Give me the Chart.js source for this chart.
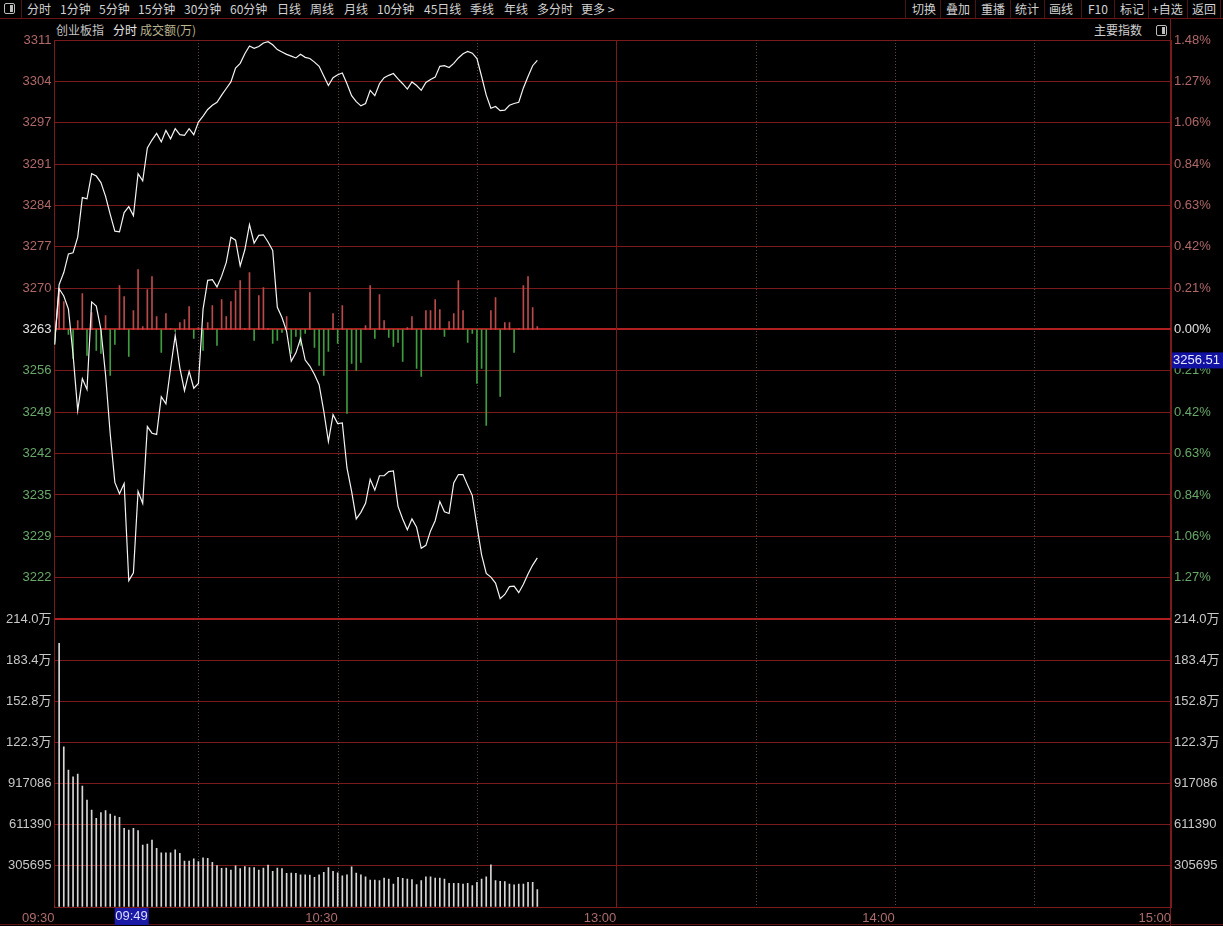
<!DOCTYPE html>
<html lang="zh-CN">
<head>
<meta charset="utf-8">
<title>创业板指 分时</title>
<script src="https://cdn.jsdelivr.net/npm/chart.js@4.4.1/dist/chart.umd.min.js"></script>
<style>
    html, body { margin: 0; padding: 0; background: #000; }
    body { width: 1223px; height: 926px; position: relative; overflow: hidden;
           font-family: "Noto Sans CJK SC", "Liberation Sans", sans-serif; }
    .tb { position: absolute; top: 1px; font-size: 12px; line-height: 16px; color: #d2d2d2; white-space: nowrap; }
    .sep { position: absolute; top: 0; width: 1px; height: 18px; background: #4e1414; }
    .hd { position: absolute; top: 22px; font-size: 12px; line-height: 16px; white-space: nowrap; }
    .icono { position: absolute; width: 9px; height: 9px; border: 1px solid #bdbdbd; border-radius: 2px; }
    .icono::after { content: ''; position: absolute; right: 1px; top: 1px; width: 3px; height: 7px; background: #bdbdbd; }
    #linea-toolbar { position: absolute; left: 0; top: 18px; width: 1223px; height: 1px; background: #6a1414; }
    #borde-derecho { position: absolute; left: 1170px; top: 19px; width: 1px; height: 907px; background: #7a1a1a; }
    #linea-inferior { position: absolute; left: 0; top: 924px; width: 1223px; height: 1px; background: #5a1212; }
    canvas { position: absolute; left: 0; }
    #chart-precio { top: 0; }
    #chart-volumen { top: 600px; }
</style>
</head>
<body>
<div class="icono" style="left:4px; top:3px;"></div>
<div class="sep" style="left:21px;"></div>
<span class="tb" style="left:27px;">分时</span>
<span class="tb" style="left:60px;">1分钟</span>
<span class="tb" style="left:99px;">5分钟</span>
<span class="tb" style="left:138px;">15分钟</span>
<span class="tb" style="left:184px;">30分钟</span>
<span class="tb" style="left:230px;">60分钟</span>
<span class="tb" style="left:277px;">日线</span>
<span class="tb" style="left:310px;">周线</span>
<span class="tb" style="left:344px;">月线</span>
<span class="tb" style="left:377px;">10分钟</span>
<span class="tb" style="left:424px;">45日线</span>
<span class="tb" style="left:470px;">季线</span>
<span class="tb" style="left:504px;">年线</span>
<span class="tb" style="left:537px;">多分时</span>
<span class="tb" style="left:581px;">更多 &gt;</span>

<div class="sep" style="left:905px;"></div>
<span class="tb" style="left:912px;">切换</span>
<div class="sep" style="left:940px;"></div>
<span class="tb" style="left:946px;">叠加</span>
<div class="sep" style="left:975px;"></div>
<span class="tb" style="left:981px;">重播</span>
<div class="sep" style="left:1010px;"></div>
<span class="tb" style="left:1015px;">统计</span>
<div class="sep" style="left:1044px;"></div>
<span class="tb" style="left:1049px;">画线</span>
<div class="sep" style="left:1081px;"></div>
<span class="tb" style="left:1088px;">F10</span>
<div class="sep" style="left:1114px;"></div>
<span class="tb" style="left:1120px;">标记</span>
<div class="sep" style="left:1148px;"></div>
<span class="tb" style="left:1152px;">+自选</span>
<div class="sep" style="left:1187px;"></div>
<span class="tb" style="left:1192px;">返回</span>
<div class="sep" style="left:1220px;"></div>
<div id="linea-toolbar"></div>

<span class="hd" style="left:56px; color:#c4c4c4;">创业板指</span>
<span class="hd" style="left:113px; color:#e6e6e6;">分时</span>
<span class="hd" style="left:140px; color:#b8b48e;">成交额(万)</span>
<span class="hd" style="left:1094px; color:#cfcfcf;">主要指数</span>
<div class="icono" style="left:1156px; top:25px;"></div>

<div id="borde-derecho"></div>
<div id="linea-inferior"></div>

<canvas id="chart-precio" width="1223" height="640"></canvas>
<canvas id="chart-volumen" width="1223" height="326"></canvas>

<script>
// Datos (un punto por minuto desde las 09:30)
const cierreAnterior = 3263;
const rangoPct = 1.48;
const valorCursor = 3256.51;
const horaCursor = '09:49';
const minutoCursor = 19;

const precioIndice = [
    3260.5, 3270.5, 3272.5, 3275.6, 3275.8, 3278.4, 3285.0, 3284.8, 3289.0, 3288.6,
    3287.5, 3285.2, 3282.2, 3279.4, 3279.3, 3282.5, 3283.5, 3282.0, 3289.0, 3287.8,
    3293.3, 3294.6, 3295.7, 3294.3, 3296.2, 3294.8, 3296.5, 3295.5, 3295.4, 3296.5,
    3295.5, 3297.6, 3298.6, 3299.7, 3300.4, 3300.9, 3302.1, 3303.2, 3304.3, 3306.6,
    3307.4, 3309.0, 3310.3, 3309.9, 3310.2, 3310.8, 3311.0, 3310.5, 3309.7, 3309.3,
    3308.9, 3308.6, 3308.3, 3308.9, 3308.4, 3308.2, 3307.6, 3306.9, 3305.3, 3303.7,
    3305.0, 3305.5, 3305.8, 3304.0, 3302.0, 3301.0, 3300.3, 3300.7, 3302.9, 3302.0,
    3304.0, 3305.0, 3305.4, 3305.7, 3304.8, 3304.0, 3303.1, 3304.3, 3303.7, 3302.9,
    3304.2, 3304.7, 3305.1, 3306.9, 3307.0, 3306.7, 3307.4, 3308.3, 3309.0, 3309.4,
    3309.1, 3308.2, 3305.2, 3302.1, 3299.9, 3300.2, 3299.5, 3299.6, 3300.4, 3300.7,
    3300.9, 3303.3, 3305.2, 3307.0, 3307.9
];

const precioPromedio = [
    3260.5, 3269.8, 3268.6, 3266.4, 3258.8, 3249.5, 3254.8, 3253.0, 3267.6, 3266.9,
    3263.0, 3255.4, 3245.6, 3237.5, 3235.6, 3237.3, 3221.1, 3222.4, 3236.0, 3234.0,
    3246.8, 3245.7, 3245.5, 3251.8, 3250.6, 3256.5, 3262.0, 3256.6, 3252.8, 3256.0,
    3253.2, 3254.0, 3266.4, 3271.2, 3271.3, 3270.1, 3271.9, 3274.2, 3278.4, 3277.9,
    3273.6, 3276.3, 3280.5, 3277.4, 3278.7, 3278.8, 3277.6, 3276.2, 3266.7, 3265.0,
    3262.7, 3257.7, 3259.1, 3261.5, 3257.9, 3256.9, 3255.5, 3253.8, 3249.4, 3244.3,
    3248.8, 3247.3, 3247.4, 3239.9, 3236.0, 3231.4, 3232.5, 3234.0, 3238.0, 3236.2,
    3238.6, 3238.6, 3239.3, 3239.4, 3233.5, 3231.4, 3229.6, 3231.4, 3230.0, 3226.5,
    3227.0, 3229.4, 3231.1, 3234.3, 3232.6, 3232.3, 3237.4, 3238.8, 3238.8, 3237.0,
    3235.3, 3230.2, 3225.4, 3222.3, 3221.7, 3220.7, 3218.1, 3218.8, 3220.1, 3220.2,
    3219.1, 3220.5, 3222.2, 3223.7, 3224.9
];

// Barras rojo/verde alrededor de la línea 0.00% (positivo = rojo, negativo = verde)
const fuerzaCompra = [
    -15, 39, 28, -5, -29, 9, 36, -26, 17, -21,
    -24, 14, -46, -15, 44, 33, -27, 19, 60, 3,
    40, 53, 13, -23, 16, 1, -2, 7, 10, 23,
    -9, 2, -21, 7, 24, -16, 30, 13, 28, 39,
    49, 1, 57, -11, 34, 42, 1, -14, -11, -3,
    13, -24, -7, -16, -4, 37, -18, -36, -46, -22,
    16, -14, 24, -84, -34, -41, -33, 4, 44, -9,
    35, 9, -8, -17, -13, -32, 2, 13, -39, -47,
    19, 19, 30, 20, -7, 8, 16, 49, 19, -13,
    -4, -54, -39, -96, 19, 32, -67, 7, 7, -23,
    1, 44, 53, 22, 3
];

const volumen = [
    0, 1959000, 1191000, 1018000, 968000, 988000, 899000, 795000, 721000, 659000,
    701000, 716000, 691000, 676000, 666000, 585000, 572000, 585000, 567000, 461000,
    468000, 498000, 436000, 403000, 403000, 403000, 424000, 399000, 342000, 342000,
    357000, 337000, 366000, 362000, 332000, 307000, 287000, 289000, 275000, 305000,
    285000, 300000, 293500, 293500, 274000, 288600, 310600, 264200, 288600, 286200,
    249500, 252000, 249500, 239700, 239700, 237300, 220100, 239700, 256800, 293500,
    264200, 254400, 232400, 239700, 298400, 252000, 239700, 225000, 200600, 200600,
    195700, 215200, 207900, 171200, 220100, 212800, 207900, 203000, 166300, 195700,
    225000, 225000, 215200, 215200, 207900, 176100, 176100, 176100, 171200, 176100,
    159000, 183500, 207900, 225000, 313100, 195700, 190800, 188300, 171200, 163900,
    171200, 171200, 183500, 183500, 129600
];

const etiquetasPrecio = ['3311', '3304', '3297', '3291', '3284', '3277', '3270', '3263',
    '3256', '3249', '3242', '3235', '3229', '3222', ''];
const etiquetasPct = ['1.48%', '1.27%', '1.06%', '0.84%', '0.63%', '0.42%', '0.21%', '0.00%',
    '0.21%', '0.42%', '0.63%', '0.84%', '1.06%', '1.27%', ''];
const volumenMaximo = 2139867;
const etiquetasVolumen = ['214.0万', '183.4万', '152.8万', '122.3万', '917086', '611390', '305695', ''];

const etiquetasHora = ['09:30', '10:30', '13:00', '14:00', '15:00'];
const minutosHora = [0, 61, 121, 181, 240.5];
const minutosMedias = [31, 61, 91, 121, 151, 181, 211];
const minutoMediodia = 121;

const ROJO_GRID = '#7a1a1a';
const ROJO_FUERTE = '#b01f1f';
const FUENTE = '"Liberation Sans", "Noto Sans CJK SC", sans-serif';

Chart.defaults.font.family = FUENTE;
Chart.defaults.font.size = 13;
Chart.defaults.animation = false;

const minutos = precioIndice.map((_, i) => i);

function colorPorNivel(ctx) {
    if (ctx.index > 7) return '#b06868';
    if (ctx.index === 7) return '#e2e2e2';
    return '#68a868';
}

const lineasVerticales = {
    id: 'lineasVerticales',
    beforeDatasetsDraw(chart) {
        const { ctx, chartArea, scales } = chart;
        ctx.save();
        ctx.lineWidth = 1;
        minutosMedias.forEach(m => {
            const px = Math.round(scales.x.getPixelForValue(m)) + 0.5;
            if (m === minutoMediodia) {
                ctx.setLineDash([]);
                ctx.strokeStyle = ROJO_GRID;
            } else {
                ctx.setLineDash([1, 2]);
                ctx.strokeStyle = '#5e4646';
            }
            ctx.beginPath();
            ctx.moveTo(px, chartArea.top);
            ctx.lineTo(px, chartArea.bottom);
            ctx.stroke();
        });
        ctx.restore();
    }
};

const etiquetaCursorPrecio = {
    id: 'etiquetaCursorPrecio',
    afterDraw(chart) {
        const { ctx, chartArea, scales } = chart;
        const y = scales.pct.getPixelForValue(valorCursor);
        ctx.save();
        ctx.fillStyle = '#1212a2';
        ctx.fillRect(chartArea.right + 1, y - 16, 52, 16);
        ctx.fillStyle = '#e8e8ff';
        ctx.font = '13px ' + FUENTE;
        ctx.textBaseline = 'middle';
        ctx.fillText(valorCursor.toFixed(2), chartArea.right + 2, y - 7.5);
        ctx.restore();
    }
};

const etiquetaCursorHora = {
    id: 'etiquetaCursorHora',
    afterDraw(chart) {
        const { ctx, chartArea, scales } = chart;
        const derecha = scales.x.getPixelForValue(minutoCursor) + 6;
        ctx.save();
        ctx.fillStyle = '#1a1aa6';
        ctx.fillRect(derecha - 34, chartArea.bottom + 1, 34, 17);
        ctx.fillStyle = '#dcdcff';
        ctx.font = '13px ' + FUENTE;
        ctx.textAlign = 'right';
        ctx.textBaseline = 'middle';
        ctx.fillText(horaCursor, derecha - 1, chartArea.bottom + 9);
        ctx.restore();
    }
};

function nivelesPrecio(scale) {
    const paso = cierreAnterior * rangoPct / 100 / 7;
    const ticks = [];
    for (let k = -7; k <= 7; k++) ticks.push({ value: cierreAnterior + k * paso });
    scale.ticks = ticks;
}

function ejeX(visible) {
    const eje = {
        type: 'linear',
        min: 0,
        max: 240.5,
        offset: false,
        display: visible,
        grid: { display: false, offset: false },
        border: { display: visible, color: ROJO_GRID },
        afterBuildTicks: s => { s.ticks = minutosHora.map(v => ({ value: v })); },
        ticks: {
            autoSkip: false,
            maxRotation: 0,
            align: 'end',
            padding: -4,
            color: '#ad6c6c',
            callback: (v, i) => etiquetasHora[i]
        }
    };
    if (visible) eje.afterFit = s => { s.height = 19; };
    return eje;
}

function renderizarGraficoPrecio() {
    const minPrecio = cierreAnterior * (1 - rangoPct / 100);
    const maxPrecio = cierreAnterior * (1 + rangoPct / 100);
    const ctx = document.getElementById('chart-precio').getContext('2d');

    new Chart(ctx, {
        type: 'line',
        data: {
            datasets: [
                {
                    type: 'line',
                    data: minutos.map(i => ({ x: i, y: precioIndice[i] })),
                    borderColor: '#f4f4f4',
                    borderWidth: 1.2,
                    pointRadius: 0,
                    tension: 0,
                    yAxisID: 'y',
                    order: 0
                },
                {
                    type: 'line',
                    data: minutos.map(i => ({ x: i, y: precioPromedio[i] })),
                    borderColor: '#f4f4f4',
                    borderWidth: 1.2,
                    pointRadius: 0,
                    tension: 0,
                    yAxisID: 'y',
                    order: 0
                },
                {
                    type: 'bar',
                    data: minutos.map(i => ({ x: i, y: fuerzaCompra[i] })),
                    backgroundColor: c => (c.raw && c.raw.y < 0) ? '#3f9c3f' : '#b84a4a',
                    barThickness: 1,
                    yAxisID: 'fuerza',
                    order: 1
                }
            ]
        },
        options: {
            responsive: false,
            events: [],
            layout: { padding: { top: 40, bottom: 21, left: 0, right: 0 } },
            plugins: { legend: { display: false }, tooltip: { enabled: false } },
            scales: {
                x: ejeX(false),
                y: {
                    position: 'left',
                    min: minPrecio,
                    max: maxPrecio,
                    afterBuildTicks: nivelesPrecio,
                    afterFit: s => { s.width = 54.5; },
                    grid: {
                        drawTicks: false,
                        color: c => (c.index === 7 || c.index === 0) ? ROJO_FUERTE : ROJO_GRID,
                        lineWidth: c => (c.index === 7 || c.index === 0) ? 2 : 1
                    },
                    border: { display: true, color: ROJO_GRID },
                    ticks: {
                        padding: 3,
                        color: colorPorNivel,
                        callback: (v, i, t) => etiquetasPrecio[t.length - 1 - i]
                    }
                },
                pct: {
                    position: 'right',
                    min: minPrecio,
                    max: maxPrecio,
                    afterBuildTicks: nivelesPrecio,
                    afterFit: s => { s.width = 52; },
                    grid: { drawOnChartArea: false, drawTicks: false },
                    border: { display: true, color: ROJO_GRID },
                    ticks: {
                        padding: 3,
                        color: colorPorNivel,
                        callback: (v, i, t) => etiquetasPct[t.length - 1 - i]
                    }
                },
                fuerza: { display: false, min: -290, max: 290 }
            }
        },
        plugins: [lineasVerticales, etiquetaCursorPrecio]
    });
}

function renderizarGraficoVolumen() {
    const ctx = document.getElementById('chart-volumen').getContext('2d');
    const nivelesVolumen = s => {
        const ticks = [];
        for (let k = 0; k <= 7; k++) ticks.push({ value: volumenMaximo * k / 7 });
        s.ticks = ticks;
    };

    new Chart(ctx, {
        type: 'bar',
        data: {
            datasets: [{
                data: minutos.map(i => ({ x: i, y: volumen[i] })),
                backgroundColor: '#d6d6d6',
                barThickness: 1
            }]
        },
        options: {
            responsive: false,
            events: [],
            layout: { padding: { top: 19, bottom: 0, left: 0, right: 0 } },
            plugins: { legend: { display: false }, tooltip: { enabled: false } },
            scales: {
                x: ejeX(true),
                y: {
                    position: 'left',
                    min: 0,
                    max: volumenMaximo,
                    afterBuildTicks: nivelesVolumen,
                    afterFit: s => { s.width = 54.5; },
                    grid: {
                        drawTicks: false,
                        color: c => c.index === 7 ? ROJO_FUERTE : ROJO_GRID,
                        lineWidth: c => c.index === 7 ? 2 : 1
                    },
                    border: { display: true, color: ROJO_GRID },
                    ticks: {
                        padding: 3,
                        color: '#c8c8c8',
                        callback: (v, i, t) => etiquetasVolumen[t.length - 1 - i]
                    }
                },
                y2: {
                    position: 'right',
                    min: 0,
                    max: volumenMaximo,
                    afterBuildTicks: nivelesVolumen,
                    afterFit: s => { s.width = 52; },
                    grid: { drawOnChartArea: false, drawTicks: false },
                    border: { display: true, color: ROJO_GRID },
                    ticks: {
                        padding: 3,
                        color: '#c8c8c8',
                        callback: (v, i, t) => etiquetasVolumen[t.length - 1 - i]
                    }
                }
            }
        },
        plugins: [lineasVerticales, etiquetaCursorHora]
    });
}

renderizarGraficoPrecio();
renderizarGraficoVolumen();
</script>
</body>
</html>
